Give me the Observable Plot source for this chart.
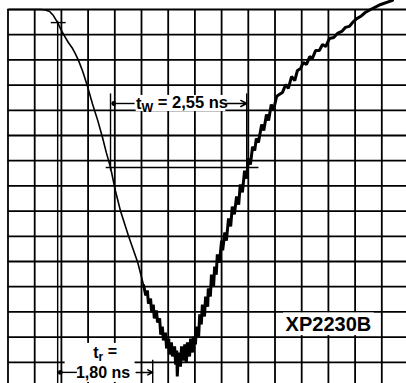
<!DOCTYPE html>
<html><head><meta charset="utf-8">
<script src="https://cdn.jsdelivr.net/npm/d3@7"></script>
<script src="https://cdn.jsdelivr.net/npm/@observablehq/plot@0.6"></script>
<style>
html,body{margin:0;padding:0;background:#fff;}
#chart{width:406px;height:383px;overflow:hidden;}
#chart svg{display:block;}
</style></head><body><div id="chart"></div>
<script>
// Horizontal: time in ns (0.5 ns per division); vertical: amplitude in divisions
const gridTimes = [0,0.5,1,1.5,2,2.5,3,3.5,4,4.5,5,5.5,6,6.5,7];
const gridLevels = [0,-1,-2,-3,-4,-5,-6,-7,-8,-9,-10,-11,-12,-13,-14];

// leading (falling) edge of the anode pulse – clean part
const edgeTime  = [0.03,0.61,0.70,0.78,0.85,0.93,0.98,1.04,1.13,1.21,1.26,1.32,1.40,1.49,1.58,1.68,1.77,1.84,1.92,2.01,2.11,2.26,2.43,2.54];
const edgeLevel = [0,0,-0.02,-0.08,-0.24,-0.52,-0.75,-0.99,-1.31,-1.55,-1.75,-2.02,-2.46,-3.06,-3.73,-4.40,-5.08,-5.67,-6.27,-7.18,-8.02,-9.01,-10.04,-10.95];

// bottom of the pulse and trailing edge – noisy part
const noiseTime  = [2.54,2.58,2.61,2.63,2.67,2.69,2.72,2.74,2.78,2.80,2.84,2.86,2.89,2.91,2.95,2.97,3.01,3.02,3.06,3.08,3.12,3.14,3.16,3.17,3.19,3.23,3.25,3.29,3.31,3.34,3.36,3.40,3.42,3.46,3.47,3.51,3.53,3.57,3.59,3.62,3.64,3.68,3.70,3.74,3.75,3.79,3.81,3.85,3.87,3.90,3.92,3.96,4.00,4.02,4.06,4.09,4.13,4.17,4.20,4.24,4.28,4.32,4.35,4.39,4.43,4.47,4.50,4.54,4.58,4.62,
  4.65,4.69,4.75,4.79,4.84,4.88,4.93,4.97,5.03,5.08,5.14,5.20,5.25,5.31,5.37,5.42,5.48,5.53,5.59,5.65,5.70,5.76,5.83,5.89,5.95,6.02,6.10,6.17,6.25,6.32,6.39,6.47,6.53,6.60,6.69,6.79,6.98,7.20];
const noiseLevel = [-10.95,-11.35,-11.15,-11.67,-11.47,-12.02,-11.71,-12.26,-11.94,-12.42,-12.26,-12.90,-12.58,-13.13,-12.82,-13.45,-13.06,-13.69,-13.21,-13.77,-13.37,-14.09,-13.53,-14.56,-13.61,-14.17,-13.37,-13.93,-13.29,-14.01,-13.21,-13.77,-13.06,-13.61,-12.98,-13.29,-12.58,-12.98,-12.10,-12.50,-11.71,-12.18,-11.39,-11.79,-11.07,-11.39,-10.52,-10.99,-10.20,-10.52,-9.72,-10.04,-9.17,-9.56,-8.85,-9.17,-8.29,-8.61,-7.82,-8.13,-7.42,-7.74,-6.94,-7.26,-6.39,-6.71,-5.91,-6.15,-5.44,-5.60,
  -5.12,-5.28,-4.56,-4.80,-4.17,-4.40,-3.77,-4.01,-3.45,-3.37,-3.29,-2.98,-3.13,-2.66,-2.82,-2.42,-2.34,-2.10,-2.18,-1.87,-1.94,-1.63,-1.63,-1.39,-1.47,-1.15,-1.11,-0.95,-0.87,-0.71,-0.67,-0.48,-0.36,-0.28,-0.12,0,0.20,0.36];

// measurement markers
const riseStart = 0.93, riseEnd = 2.71;      // t_r = 1,80 ns
const widthStart = 1.92, widthEnd = 4.47;    // t_w = 2,55 ns
const halfLevel = -6.27;
const riseTopLevel = -0.52;

// texts
const tubeLabel = "XP2230B";
const widthLabel = "t_W = 2,55 ns";
const riseLabel1 = "t_r =";
const riseLabel2 = "1,80 ns";

const edge = edgeTime.map((t, i) => ({t, v: edgeLevel[i]}));
const noisy = noiseTime.map((t, i) => ({t, v: noiseLevel[i]}));

const xDomain = [-0.1404, 7.4625];
const yDomain = [-14.841, 0.357];
const yBottom = yDomain[0];

const segments = [
  {x1: 0.80, x2: 1.08, y1: riseTopLevel, y2: riseTopLevel},       // 10% tick
  {x1: riseStart, x2: riseStart, y1: -0.45, y2: yBottom},          // t_r start
  {x1: riseEnd, x2: riseEnd, y1: -13.9, y2: yBottom},              // t_r end
  {x1: widthStart, x2: widthStart, y1: -3.33, y2: -6.39},          // t_w start
  {x1: widthEnd, x2: widthEnd, y1: -3.33, y2: -6.39},              // t_w end
  {x1: 1.83, x2: 4.69, y1: halfLevel, y2: halfLevel},              // 50 % level
  {x1: 0.98, x2: 1.29, y1: -14.40, y2: -14.40},                    // t_r left leader
  {x1: 1.98, x2: 2.37, y1: -3.73, y2: -3.73}                       // t_w left leader
];
const arrows = [
  {x1: 2.40, x2: riseEnd, y1: -14.40, y2: -14.40},
  {x1: 4.10, x2: widthEnd, y1: -3.73, y2: -3.73}
];
const dots = [{x: 0.98, y: -14.40}, {x: 1.98, y: -3.73}];
const boxes = [
  {x1: 2.40, x2: 4.08, y1: -3.41, y2: -4.05},
  {x1: 5.16, x2: 6.86, y1: -12.04, y2: -12.94},
  {x1: 1.07, x2: 2.38, y1: -13.25, y2: -14.80}
];
const texts = [
  {x: 3.26, y: -3.73, s: widthLabel, size: 16.5},
  {x: 1.82, y: -13.62, s: riseLabel1, size: 16},
  {x: 1.78, y: -14.40, s: riseLabel2, size: 16},
  {x: 6.00, y: -12.52, s: tubeLabel, size: 20}
];

const font = "'Liberation Sans', Arial, Helvetica, sans-serif";

const chart = Plot.plot({
  width: 406, height: 383,
  marginTop: 0, marginRight: 0, marginBottom: 0, marginLeft: 0,
  x: {domain: xDomain, axis: null},
  y: {domain: yDomain, axis: null},
  style: {background: "#fff"},
  marks: [
    Plot.ruleX(gridTimes, {x: d => d, y1: 0, y2: yBottom, stroke: "#000", strokeWidth: 1.8}),
    Plot.ruleY(gridLevels, {y: d => d, x1: 0, x2: xDomain[1], stroke: "#000", strokeWidth: 1.8}),
    Plot.rect(boxes, {x1: "x1", x2: "x2", y1: "y1", y2: "y2", fill: "#fff"}),
    Plot.link(segments, {x1: "x1", x2: "x2", y1: "y1", y2: "y2", stroke: "#000", strokeWidth: 1.4}),
    Plot.arrow(arrows, {x1: "x1", x2: "x2", y1: "y1", y2: "y2", stroke: "#000", strokeWidth: 1.5, headLength: 7, headAngle: 55}),
    Plot.dot(dots, {x: "x", y: "y", r: 2.4, fill: "#000"}),
    Plot.line(edge, {x: "t", y: "v", stroke: "#000", strokeWidth: 1.6, clip: true}),
    Plot.line(noisy, {x: "t", y: "v", stroke: "#000", strokeWidth: 3, strokeLinejoin: "miter", clip: true}),
    Plot.text(texts, {x: "x", y: "y", text: "s", fontSize: d => d.size, fontWeight: "bold", fontFamily: font, fill: "#000", textAnchor: "middle", lineAnchor: "middle"})
  ]
});

document.getElementById("chart").appendChild(chart);

// render subscripts (t_W, t_r) as real tspans
d3.select(chart).selectAll("text").each(function() {
  const s = this.textContent;
  const m = s.match(/^(\w)_(\w)(.*)$/);
  if (!m) return;
  const el = d3.select(this);
  el.text(m[1]);
  el.append("tspan").attr("dy", "0.3em").attr("font-size", "0.75em").text(m[2]);
  el.append("tspan").attr("dy", "-0.3em").text(m[3]);
});
</script>
</body></html>
